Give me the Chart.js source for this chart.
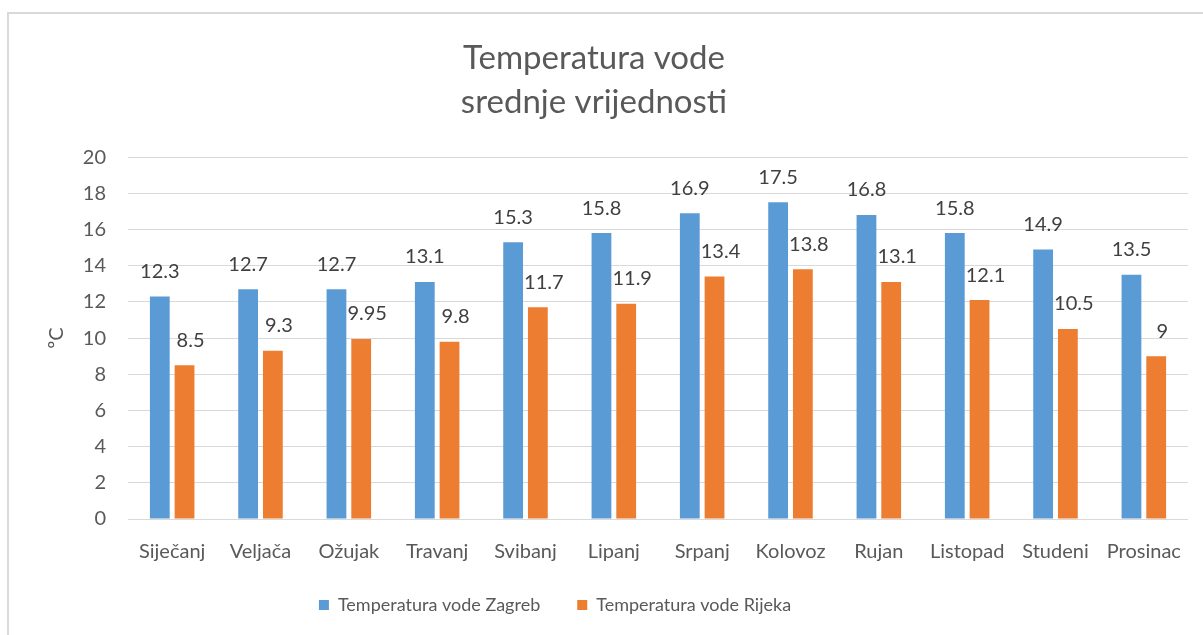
<!DOCTYPE html>
<html>
<head>
<meta charset="utf-8">
<script src="https://cdn.jsdelivr.net/npm/chart.js@4"></script>
<style>
  html, body { margin: 0; padding: 0; background: #fff; }
  #box { position: relative; width: 1203px; height: 635px; }
</style>
</head>
<body>
<div id="box"><canvas id="grafikon"></canvas></div>
<script>
const mjeseci = ["Siječanj", "Veljača", "Ožujak", "Travanj", "Svibanj", "Lipanj",
                 "Srpanj", "Kolovoz", "Rujan", "Listopad", "Studeni", "Prosinac"];
const zagreb = [12.3, 12.7, 12.7, 13.1, 15.3, 15.8, 16.9, 17.5, 16.8, 15.8, 14.9, 13.5];
const rijeka = [8.5, 9.3, 9.95, 9.8, 11.7, 11.9, 13.4, 13.8, 13.1, 12.1, 10.5, 9];
const yMin = 0, yMax = 20, yStep = 2;

const font = "Lato";

// okvir oko grafikona; legenda malo ulijevo i gore kao u Excelu
const okvir = {
    id: "okvir",
    afterLayout(chart) {
        chart.legend.right -= 78;
        chart.legend.top -= 26;
        chart.legend.bottom -= 26;
    },
    beforeDraw(chart) {
        const c = chart.ctx;
        c.save();
        c.strokeStyle = "#d9d9d9";
        c.lineWidth = 2;
        c.strokeRect(8, 13, chart.width + 20, chart.height + 20);
        c.restore();
    }
};

// vrijednosti iznad stupaca
const oznake = {
    id: "oznake",
    afterDatasetsDraw(chart) {
        const c = chart.ctx;
        c.save();
        c.font = "20px " + font;
        c.fillStyle = "#404040";
        c.textAlign = "center";
        c.textBaseline = "middle";
        chart.data.datasets.forEach((ds, i) => {
            const dx = i === 1 ? 6 : 0;
            chart.getDatasetMeta(i).data.forEach((bar, j) => {
                c.fillText(String(ds.data[j]), bar.x + dx, bar.y - 25);
            });
        });
        c.restore();
    }
};

new Chart(document.getElementById("grafikon").getContext("2d"), {
    type: "bar",
    data: {
        labels: mjeseci,
        datasets: [
            {
                label: "Temperatura vode Zagreb",
                data: zagreb,
                backgroundColor: "#5b9bd5",
                barPercentage: 0.8,
                categoryPercentage: 0.56
            },
            {
                label: "Temperatura vode Rijeka",
                data: rijeka,
                backgroundColor: "#ed7d31",
                barPercentage: 0.8,
                categoryPercentage: 0.56
            }
        ]
    },
    options: {
        responsive: true,
        maintainAspectRatio: false,
        animation: false,
        layout: { padding: { left: 0, right: 15, top: 12, bottom: -15 } },
        plugins: {
            title: {
                display: true,
                text: ["Temperatura vode", "srednje vrijednosti"],
                color: "#595959",
                font: { family: font, size: 33, weight: "normal", lineHeight: 1.35 },
                padding: { top: 24, bottom: 32 }
            },
            legend: {
                display: true,
                position: "bottom",
                labels: {
                    boxWidth: 10,
                    boxHeight: 10,
                    color: "#595959",
                    padding: 37,
                    font: { family: font, size: 18 }
                }
            },
            tooltip: { enabled: false }
        },
        scales: {
            x: {
                grid: { display: false, drawTicks: false },
                border: { display: false },
                ticks: { color: "#595959", padding: 21, font: { family: font, size: 20 } }
            },
            y: {
                min: yMin,
                max: yMax,
                ticks: { stepSize: yStep, color: "#595959", padding: 22, font: { family: font, size: 20 } },
                grid: { color: "#d9d9d9", lineWidth: 1, drawTicks: false },
                border: { display: false },
                title: {
                    display: true,
                    text: "ºC",
                    color: "#595959",
                    font: { family: font, size: 20 },
                    padding: { top: 45, bottom: 0 }
                },
                afterFit(scale) { scale.width = 128; }
            }
        }
    },
    plugins: [okvir, oznake]
});
</script>
</body>
</html>
